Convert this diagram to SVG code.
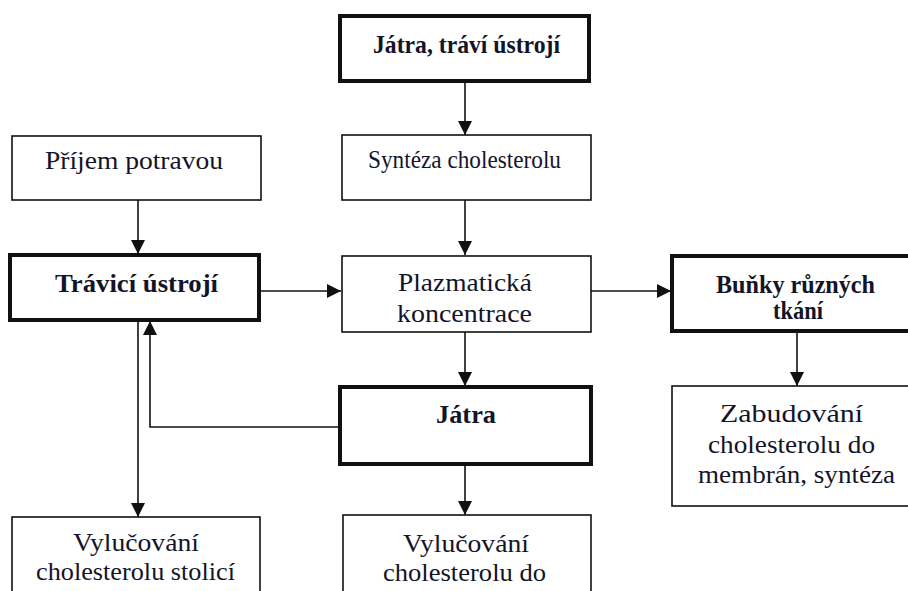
<svg xmlns="http://www.w3.org/2000/svg" width="908" height="591" viewBox="0 0 908 591">
<style>
.box{fill:#fff;stroke:#111;stroke-width:1.6}
.thick{fill:#fff;stroke:#111;stroke-width:4}
text{font-family:'Liberation Serif','DejaVu Serif',serif;font-size:25px;fill:#141428;text-anchor:middle}
.b{font-weight:bold}
.c{fill:none;stroke:#111;stroke-width:1.6}
</style>
<defs>
<marker id="ah" markerUnits="userSpaceOnUse" markerWidth="14" markerHeight="14" refX="14" refY="7" orient="auto">
<path d="M0,0 L14,7 L0,14 z" fill="#111"/>
</marker>
</defs>
<rect width="908" height="591" fill="#fff"/>
<g id="connectors">
<path class="c" d="M465,81 V135" marker-end="url(#ah)"/>
<path class="c" d="M465,200 V255" marker-end="url(#ah)"/>
<path class="c" d="M138,200 V254" marker-end="url(#ah)"/>
<path class="c" d="M259,291 H341" marker-end="url(#ah)"/>
<path class="c" d="M591,291 H671" marker-end="url(#ah)"/>
<path class="c" d="M797,331 V386" marker-end="url(#ah)"/>
<path class="c" d="M465,332 V386" marker-end="url(#ah)"/>
<path class="c" d="M465,464 V515" marker-end="url(#ah)"/>
<path class="c" d="M138,320 V517" marker-end="url(#ah)"/>
<path class="c" d="M340,427 H150 V321" marker-end="url(#ah)"/>
</g>
<g id="n-jatra-travi">
<rect class="thick" x="340" y="16" width="249" height="65"/>
<text class="b" x="466.5" y="53" font-size="24" textLength="187" lengthAdjust="spacingAndGlyphs">Játra, tráví ústrojí</text>
</g>
<g id="n-synteza">
<rect class="box" x="342" y="135" width="249" height="65"/>
<text x="464.5" y="168" font-size="24" textLength="193" lengthAdjust="spacingAndGlyphs">Syntéza cholesterolu</text>
</g>
<g id="n-prijem">
<rect class="box" x="12" y="136" width="249" height="64"/>
<text x="134" y="169" textLength="178" lengthAdjust="spacingAndGlyphs">Příjem potravou</text>
</g>
<g id="n-travici">
<rect class="thick" x="10" y="255" width="249" height="65"/>
<text class="b" x="136.5" y="292" textLength="163" lengthAdjust="spacingAndGlyphs">Trávicí ústrojí</text>
</g>
<g id="n-plazma">
<rect class="box" x="342" y="256" width="249" height="76"/>
<text x="465" y="291" textLength="134" lengthAdjust="spacingAndGlyphs">Plazmatická</text>
<text x="464.5" y="322" textLength="135" lengthAdjust="spacingAndGlyphs">koncentrace</text>
</g>
<g id="n-bunky">
<rect class="thick" x="672" y="256" width="245" height="75"/>
<text class="b" x="795.5" y="293" font-size="20" textLength="159" lengthAdjust="spacingAndGlyphs">Buňky různých</text>
<text class="b" x="798" y="319" font-size="20" textLength="50" lengthAdjust="spacingAndGlyphs">tkání</text>
</g>
<g id="n-zabudovani">
<rect class="box" x="672" y="386" width="245" height="120"/>
<text x="791.5" y="422" textLength="143" lengthAdjust="spacingAndGlyphs">Zabudování</text>
<text x="791.5" y="453" textLength="167" lengthAdjust="spacingAndGlyphs">cholesterolu do</text>
<text x="796.5" y="483" textLength="197" lengthAdjust="spacingAndGlyphs">membrán, syntéza</text>
</g>
<g id="n-jatra">
<rect class="thick" x="340" y="387" width="251" height="77"/>
<text class="b" x="466" y="423" font-size="24" textLength="60" lengthAdjust="spacingAndGlyphs">Játra</text>
</g>
<g id="n-vyluc-stolici">
<rect class="box" x="12" y="517" width="248" height="90"/>
<text x="136" y="551" textLength="126" lengthAdjust="spacingAndGlyphs">Vylučování</text>
<text x="135.5" y="580" textLength="199" lengthAdjust="spacingAndGlyphs">cholesterolu stolicí</text>
</g>
<g id="n-vyluc-do">
<rect class="box" x="343" y="515" width="248" height="90"/>
<text x="466" y="552" textLength="126" lengthAdjust="spacingAndGlyphs">Vylučování</text>
<text x="464.5" y="581" textLength="163" lengthAdjust="spacingAndGlyphs">cholesterolu do</text>
</g>
</svg>
